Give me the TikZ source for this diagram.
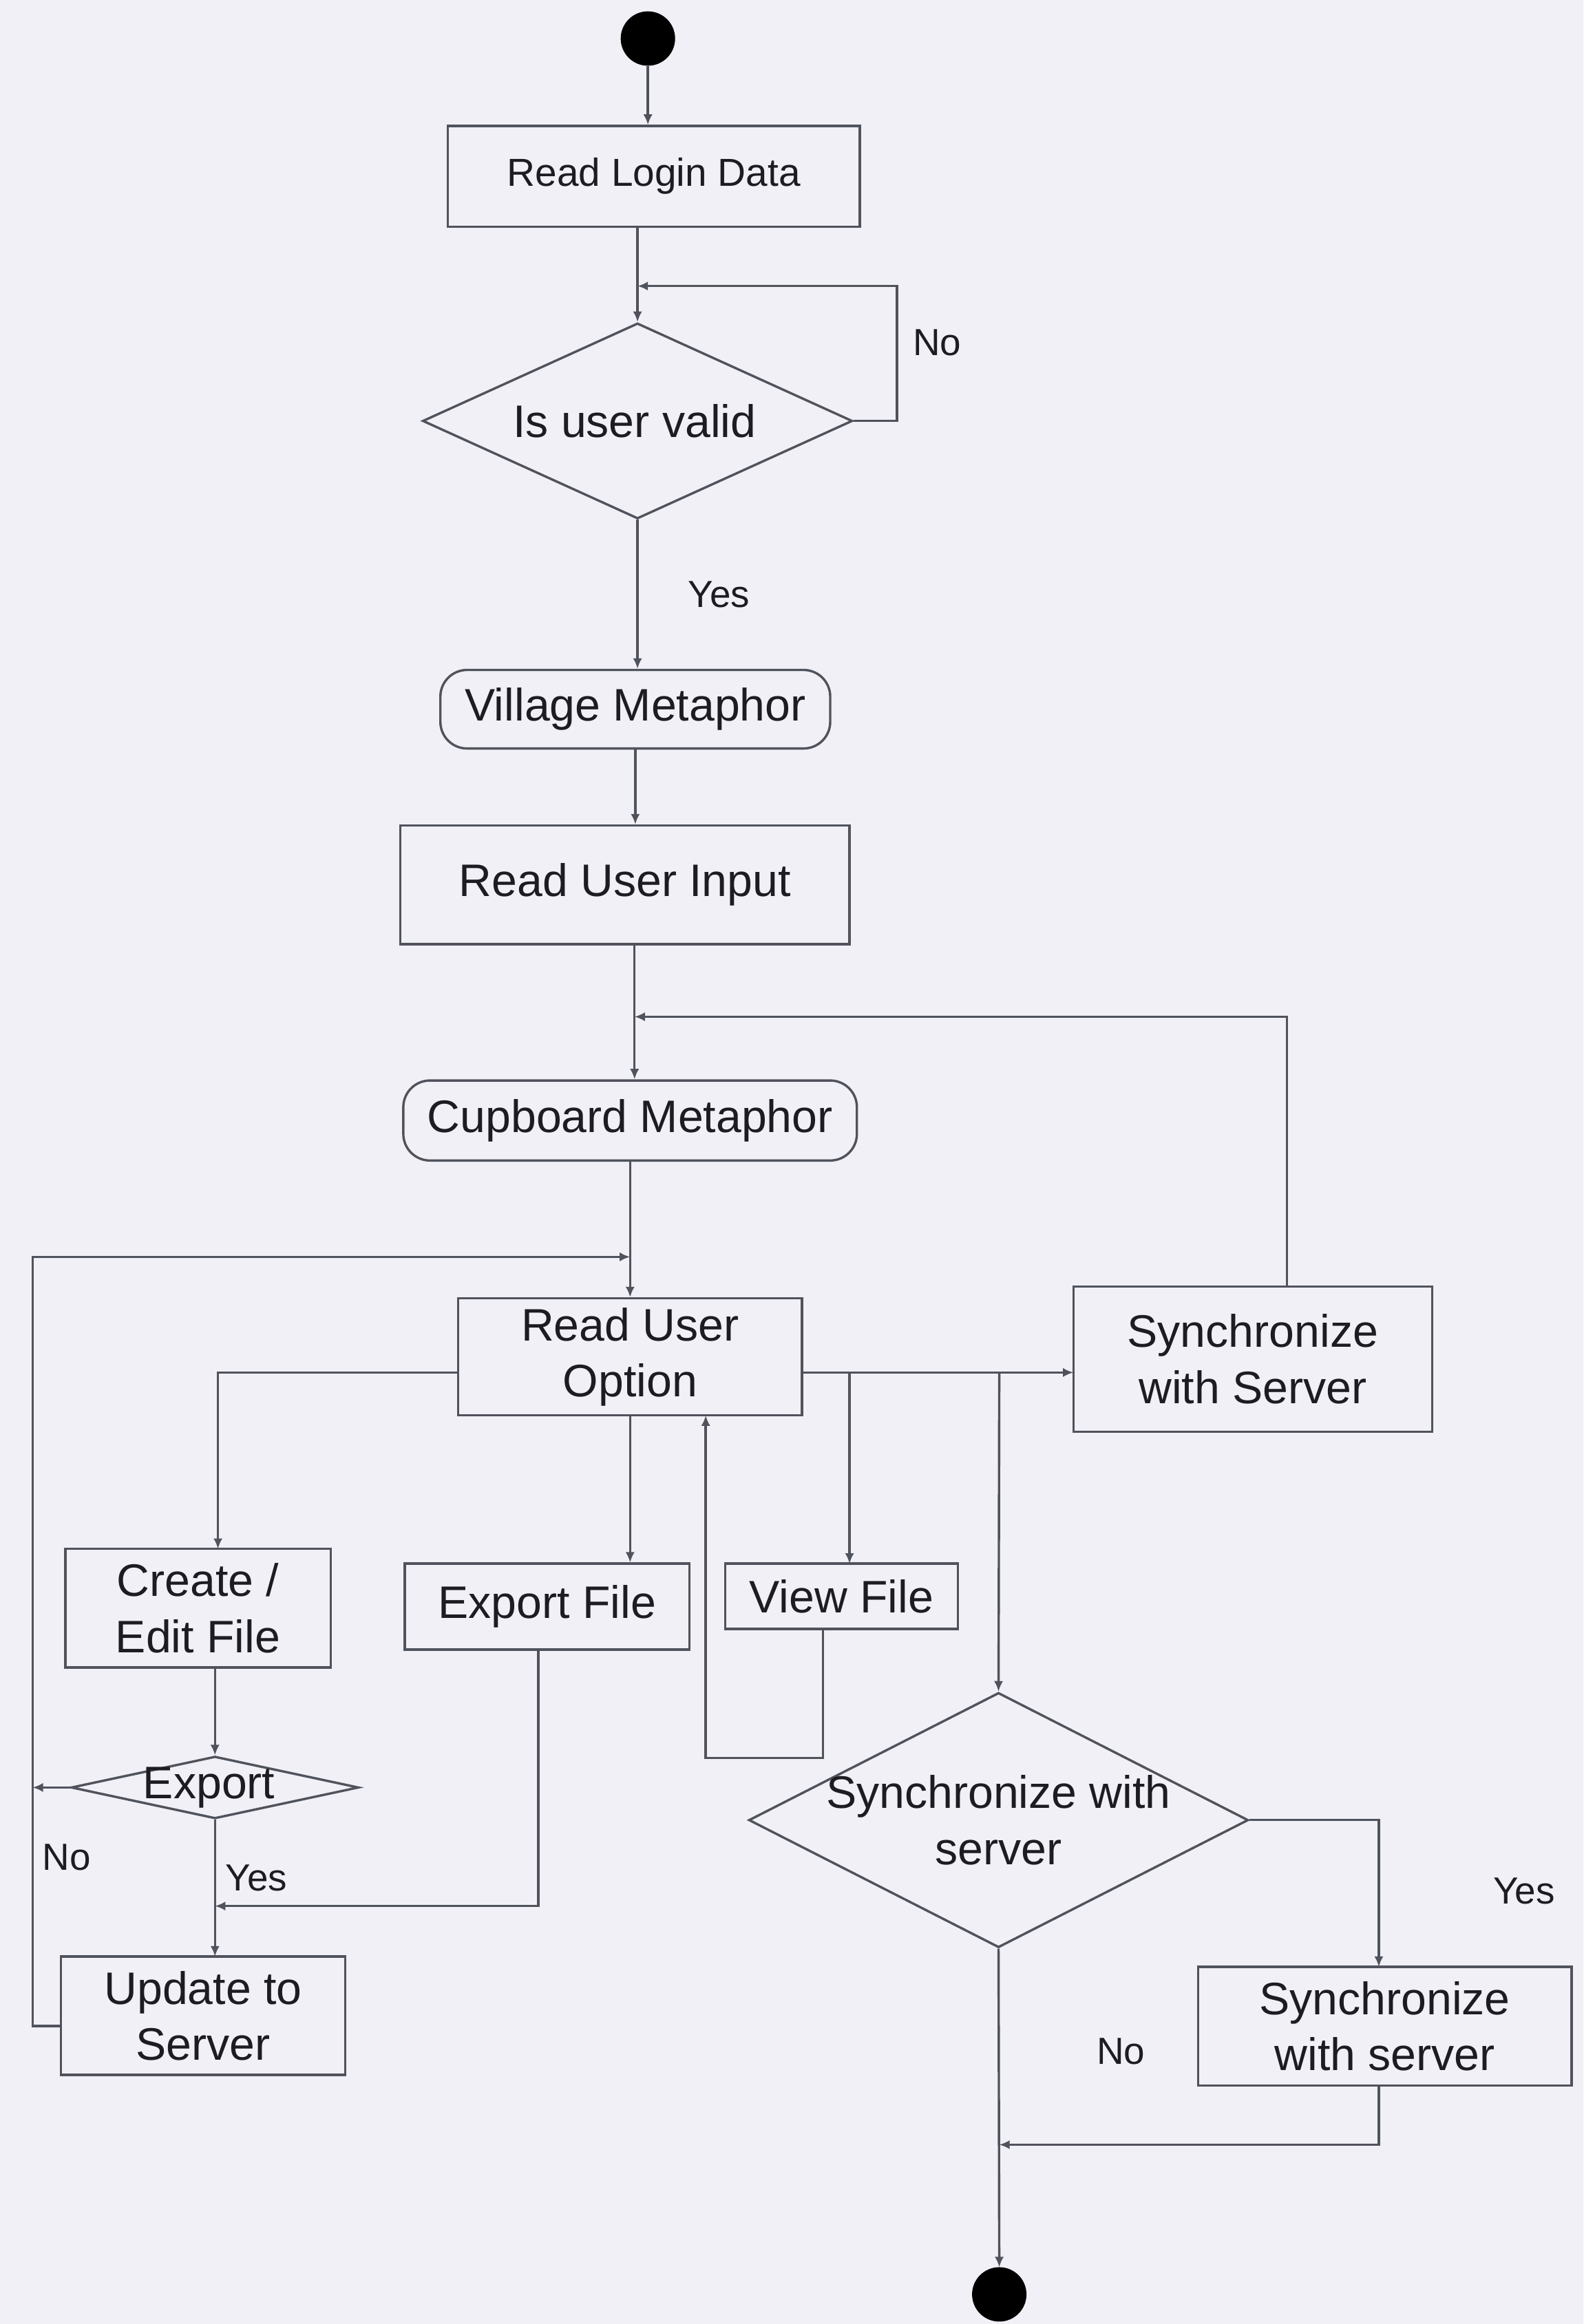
\documentclass[tikz,border=0pt]{standalone}
\usepackage{fontspec}
\setmainfont{Liberation Sans}
\usetikzlibrary{shapes.geometric,arrows.meta,calc}
\definecolor{bgc}{RGB}{240,240,246}
\definecolor{linec}{RGB}{80,82,92}
\definecolor{txtc}{RGB}{28,28,34}
\tikzset{
  box/.style={draw=linec, line width=0.9pt, rectangle, inner sep=0pt, align=center, text=txtc, font=\fontsize{17.5}{21.5}\selectfont},
  rbox/.style={box, rounded corners=0.36cm},
  dec/.style={draw=linec, line width=0.9pt, diamond, inner sep=0pt},
  dtext/.style={text=txtc, align=center, inner sep=0pt, font=\fontsize{17.5}{21.5}\selectfont},
  lab/.style={text=txtc, inner sep=0pt, font=\fontsize{14.5}{17}\selectfont},
  dot/.style={circle, fill=black, draw=black, minimum size=0.72cm, inner sep=0pt},
  conn/.style={draw=linec, line width=0.9pt},
  arr/.style={conn, -{Latex[length=4pt,width=3.5pt]}},
}
\begin{document}
\begin{tikzpicture}[x=0.02cm, y=-0.02cm]
\fill[bgc] (0,0) rectangle (1068,1568);
\useasboundingbox (0,0) rectangle (1068,1568);

% nodes
\node[dot] (start) at (437,26) {};
\node[box, minimum width=5.56cm, minimum height=1.36cm, font=\fontsize{15}{18}\selectfont] (login) at (441,119) {Read Login Data};
\node[dec, minimum width=5.8cm, minimum height=2.64cm] (valid) at (430,284) {};
\node[dtext] (validt) at (428,284) {Is user valid};
\node[rbox, minimum width=5.26cm, minimum height=1.06cm] (village) at (428.5,478.5) {Village Metaphor};
\node[box, minimum width=6.06cm, minimum height=1.6cm] (input) at (421.5,597) {Read User Input};
\node[rbox, minimum width=6.12cm, minimum height=1.08cm] (cupboard) at (425,756) {Cupboard Metaphor};
\node[box, minimum width=4.64cm, minimum height=1.58cm] (option) at (425,915.5) {Read User\\Option};
\node[box, minimum width=4.84cm, minimum height=1.96cm] (syncS) at (845,917) {Synchronize\\with Server};
\node[box, minimum width=3.58cm, minimum height=1.6cm] (create) at (133.5,1085) {Create /\\Edit File};
\node[box, minimum width=3.84cm, minimum height=1.16cm] (exportf) at (369,1084) {Export File};
\node[box, minimum width=3.14cm, minimum height=0.88cm] (view) at (567.5,1077) {View File};
\node[dec, minimum width=3.88cm, minimum height=0.84cm] (exportd) at (145,1206) {};
\node[dtext] (exportdt) at (141,1206) {Export};
\node[box, minimum width=3.84cm, minimum height=1.6cm] (update) at (137,1360) {Update to\\Server};
\node[dec, minimum width=6.74cm, minimum height=3.44cm] (syncd) at (673.5,1228) {};
\node[dtext] (syncdt) at (673.5,1228) {Synchronize with\\server};
\node[box, minimum width=5.04cm, minimum height=1.6cm] (syncs2) at (934,1367) {Synchronize\\with server};
\node[dot] (end) at (674,1548) {};

% labels
\node[lab] (lno1) at (632,231) {No};
\node[lab] (lyes1) at (485,401) {Yes};
\node[lab] (lno2) at (45,1253) {No};
\node[lab] (lyes2) at (173,1267) {Yes};
\node[lab] (lyes3) at (1028,1276) {Yes};
\node[lab] (lno3) at (756,1384) {No};

% junction coordinates
\coordinate (j1) at (430,193);
\coordinate (j2) at (428,686);
\coordinate (j3) at (425,848);
\coordinate (cN) at (147,1045);
\coordinate (oW) at (309,926);
\coordinate (oE) at (541,926);
\coordinate (sW) at (724,926);
\coordinate (uW) at (41,1367);
\coordinate (j4) at (145,1286);
\coordinate (j5) at (674,1447);

% connectors
\draw[arr] (start) -- (start |- login.north);
\draw[arr] (valid.north |- login.south) -- (valid.north);
\draw[arr] (valid.east) -- (605,284) -- (605,193) -- (j1);
\draw[arr] (valid.south) -- (valid.south |- village.north);
\draw[arr] (village.south) -- (village.south |- input.north);
\draw[arr] (j2 |- input.south) -- (j2 |- cupboard.north);
\draw[arr] (868,868) -- (868,686) -- (j2);
\draw[arr] (option.north |- cupboard.south) -- (option.north);
\draw[arr] (uW) -- (22,1367) -- (22,848) -- (j3);
\draw[arr] (exportd.west) -- (22,1206);
\draw[arr] (oW) -| (cN);
\draw[arr] (option.south) -- (option.south |- exportf.north);
\draw[arr] (oE) -- (sW);
\draw[arr] (573,926) -- (573,1055);
\draw[arr] (674,926) -- (syncd.north);
\draw[arr] (555,1099) -- (555,1186) -- (476,1186) -- (476,955);
\draw[arr] (145,1125) -- (exportd.north);
\draw[arr] (exportd.south) -- (145,1320);
\draw[arr] (363,1113) -- (363,1286) -- (j4);
\draw[arr] (syncd.east) -- (930,1228) -- (930,1327);
\draw[arr] (syncd.south) -- (end.north);
\draw[arr] (930,1407) -- (930,1447) -- (j5);
\end{tikzpicture}
\end{document}
